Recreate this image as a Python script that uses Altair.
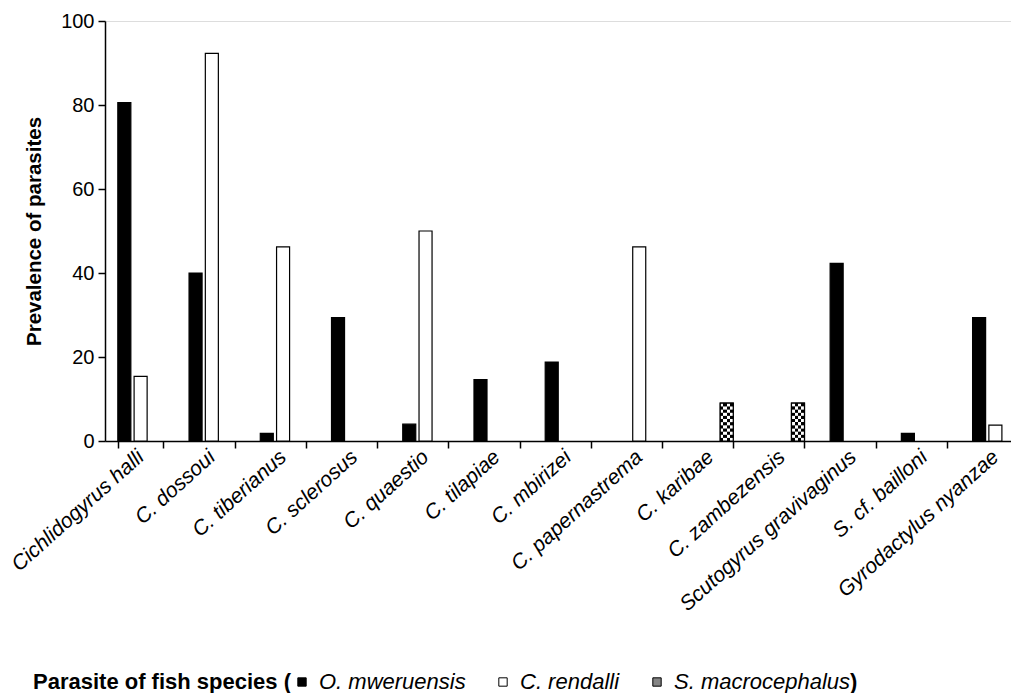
import altair as alt
import pandas as pd

parasites = ["Cichlidogyrus halli", "C. dossoui", "C. tiberianus", "C. sclerosus",
             "C. quaestio", "C. tilapiae", "C. mbirizei", "C. papernastrema",
             "C. karibae", "C. zambezensis", "Scutogyrus gravivaginus",
             "S. cf. bailloni", "Gyrodactylus nyanzae"]
series_names = ["O. mweruensis", "C. rendalli", "S. macrocephalus"]
o_mweruensis = [80.6, 40.0, 1.8, 29.4, 4.0, 14.6, 18.8, 0, 0, 0, 42.3, 1.8, 29.4]
c_rendalli = [15.4, 92.3, 46.2, 0, 50.0, 0, 0, 46.2, 0, 0, 0, 0, 3.8]
s_macrocephalus = [0, 0, 0, 0, 0, 0, 0, 0, 9.0, 9.0, 0, 0, 0]
y_ticks = [0, 20, 40, 60, 80, 100]

rows = []
for name, vals in zip(series_names, [o_mweruensis, c_rendalli, s_macrocephalus]):
    for p, v in zip(parasites, vals):
        rows.append({"parasite": p, "host": name, "value": v})
df = pd.DataFrame(rows)

# checker-pattern rows for the hatched series (split each bar into 12 bands)
N_ROWS = 12
hatch_rows = []
for p, v in zip(parasites, s_macrocephalus):
    if v > 0:
        for k in range(N_ROWS):
            hatch_rows.append({"parasite": p, "host": "S. macrocephalus",
                               "lo": v * k / N_ROWS, "hi": v * (k + 1) / N_ROWS,
                               "parity": k % 2})
hdf = pd.DataFrame(hatch_rows)

FONT = "Liberation Sans"


def stripes(n, c1, c2):
    stops = []
    for i in range(n):
        c = c1 if i % 2 == 0 else c2
        stops.append({"offset": i / n, "color": c})
        stops.append({"offset": (i + 1) / n, "color": c})
    return {"gradient": "linear", "stops": stops, "x1": 0, "y1": 0, "x2": 1, "y2": 0}


x_enc = alt.X("parasite:N", sort=parasites, title=None,
              scale=alt.Scale(paddingInner=0.36, paddingOuter=0.18, range=[0, 926]),
              axis=alt.Axis(labelAngle=318, labelAlign="right", labelBaseline="middle",
                            labelFontStyle="italic", labelFontSize=21, labelFont=FONT,
                            labelColor="black", labelPadding=6, tickBand="extent",
                            tickSize=7, tickColor="black", tickWidth=1.5, labelLimit=0,
                            domainColor="black", domainWidth=1.5, labelOverlap=False))
xoff_enc = alt.XOffset("host:N", sort=series_names,
                       scale=alt.Scale(domain=series_names, paddingInner=0.2))
y_axis = alt.Axis(values=y_ticks, grid=False, labelFontSize=20, labelFont=FONT,
                  labelColor="black", titleFontSize=20.5, titleFont=FONT,
                  titleFontWeight="bold", titleColor="black", titlePadding=16,
                  tickSize=7, tickColor="black", tickWidth=1.5,
                  domainColor="black", domainWidth=1.5, labelPadding=4)
y_scale = alt.Scale(domain=[0, 100], nice=False)

base = alt.Chart(df).transform_filter(alt.datum.value > 0)

bars = base.mark_bar(stroke="black", strokeWidth=1.2).encode(
    x=x_enc, xOffset=xoff_enc,
    y=alt.Y("value:Q", title="Prevalence of parasites", scale=y_scale, axis=y_axis),
    fill=alt.Fill("host:N", sort=series_names,
                  scale=alt.Scale(domain=series_names, range=["black", "white", "#858585"]),
                  legend=alt.Legend(title="Parasite of fish species (", orient="none",
                                    legendX=-72, legendY=650, direction="horizontal",
                                    titleOrient="left", titleFontSize=22, titleFont=FONT,
                                    titleFontWeight="bold", titleColor="black",
                                    titlePadding=0, labelFontSize=22, labelFont=FONT,
                                    labelFontStyle="italic", labelColor="black",
                                    symbolType="square", symbolSize=70, titleLimit=0,
                                    labelLimit=0,
                                    symbolStrokeColor="black", symbolStrokeWidth=1,
                                    columnPadding=26, labelOffset=6)),
)

checker = alt.Chart(hdf).mark_bar(strokeWidth=0).encode(
    x=x_enc, xOffset=xoff_enc,
    y=alt.Y("lo:Q", title="Prevalence of parasites", scale=y_scale, axis=y_axis),
    y2="hi:Q",
    fill=alt.condition(alt.datum.parity == 0,
                       alt.value(stripes(4, "black", "white")),
                       alt.value(stripes(4, "white", "black"))),
)

outline = base.transform_filter(alt.datum.host == "S. macrocephalus").mark_bar(
    fillOpacity=0, stroke="black", strokeWidth=1.2
).encode(x=x_enc, xOffset=xoff_enc,
         y=alt.Y("value:Q", title="Prevalence of parasites", scale=y_scale, axis=y_axis))

closing = alt.Chart(pd.DataFrame({"t": [")"]})).mark_text(
    font=FONT, fontSize=22, fontWeight="bold", align="left", baseline="middle", color="black"
).encode(text="t:N", x=alt.value(745), y=alt.value(661))

chart = alt.layer(bars, checker, outline, closing).properties(
    width=906, height=420,
    autosize=alt.AutoSizeParams(type="none"),
    padding={"left": 97, "top": 13, "right": 0, "bottom": 252},
).configure_view(strokeWidth=0).configure(font=FONT)

chart.save("out.html", embed_options={"renderer": "svg", "actions": False})
